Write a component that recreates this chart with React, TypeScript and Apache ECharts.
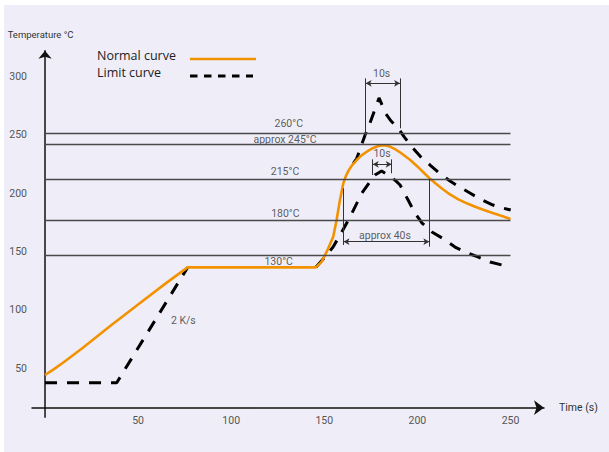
import React, { useEffect, useRef } from "react";
import * as echarts from "echarts";

// ---- data (in axis units) ----
const xTickValues = [50, 100, 150, 200, 250];
const yTickValues = [50, 100, 150, 200, 250, 300];

const normalCurve: number[][] = [
  [0, 44], [5, 49.3], [10, 55], [20, 67], [35, 86], [50, 104.5], [65, 122.8], [76.6, 136.3],
  [145.5, 136.3], [148.5, 141], [151.3, 149.7], [154.8, 162.6], [156.6, 176.9], [158.4, 194],
  [160.2, 208.3], [161.5, 214.3], [163, 219.2], [165, 224], [167.4, 228.3], [170, 232.3],
  [172.8, 235.4], [176, 238.4], [179, 240.3], [182.5, 240.9], [185.5, 239.6], [188, 237.6],
  [191, 234.5], [196, 228.5], [200, 222.8], [204, 216.5], [206.8, 212.3], [210, 208],
  [213.5, 203.5], [217.5, 198.8], [222, 194.6], [226.5, 191.2], [231, 188.2], [235.4, 185.6],
  [240, 183.1], [245, 180.5], [250, 177.7],
];

// limit curve: preheat ramp (2 K/s), then the two peak branches
const limitPreheat: number[][] = [
  [0, 37.4], [38.5, 37.4], [76.6, 136.3],
];

const limitLower: number[][] = [
  [145.5, 136.3], [150, 144.5], [154.7, 153.7],
  [159, 165.5], [163.8, 179.5], [170.2, 200], [174, 208.5], [177.2, 215.5], [180.8, 218.9],
  [184.2, 215.5], [188, 211], [190.7, 206.9], [195, 194], [198.7, 182.9], [202.5, 174.3],
  [207.8, 166.6], [213.2, 161.5], [220.2, 153.7], [225.6, 149.4], [232.5, 145.2], [239, 140.9],
  [249.7, 136.6],
];

const limitUpper: number[][] = [
  [165.6, 225.5], [167.4, 229.5], [171.9, 249.7],
  [174.5, 259.8], [179.4, 281.5], [183, 268], [186, 261.5], [189.6, 255.7], [193, 248],
  [197.1, 239.4], [201.5, 231.5], [206.8, 224], [212, 216.8], [217.5, 210.3], [223, 204.8],
  [228.2, 200], [234, 194.6], [240.6, 189.7], [245, 187.5], [250.1, 185.4],
];

const refLineValues = [251.2, 241.8, 211.8, 177.1, 146.6];
const refLineEnd = 250;
const refLineLabels = ["260°C", "approx 245°C", "215°C", "180°C", "130°C"];
const refLabelAnchors: number[][] = [
  [130.9, 259.8], [128.9, 246.1], [128.9, 218.3], [129.1, 182.6], [125.5, 141.1],
];

const annotationTexts = ["10s", "10s", "approx 40s", "2 K/s"];
const annotationAnchors: number[][] = [
  [180.8, 302.6], [181, 233.5], [182.6, 164], [74.3, 90.6],
];

// dimension ticks: [x, yFrom, yTo]
const bracketTicks: number[][] = [
  [172.2, 298.3, 248.9], [190.7, 298.3, 255.5],
  [176, 228.9, 215.5], [186.2, 228.9, 216.9],
  [160.3, 204, 155.5], [206.4, 212, 154],
];
// dimension arrows: [xFrom, xTo, y]
const bracketArrows: number[][] = [
  [172.2, 190.7, 294], [176, 186.2, 224.6], [160.3, 206.4, 158.3],
];

const legendNames = ["Normal curve", "Limit curve"];

const X_MIN = -7;
const X_MAX = 268;
const Y_MIN = 16;
const Y_MAX = 322;

const ORANGE = "#f39200";
const FONT = "Roboto, 'Open Sans', sans-serif";

export default function App() {
  const ref = useRef<HTMLDivElement>(null);

  useEffect(() => {
    if (!ref.current) return;
    const chart = echarts.init(ref.current, undefined, { renderer: "svg" });

    const markLineData: any[] = [];
    refLineValues.forEach((v) => {
      markLineData.push([{ coord: [0, v] }, { coord: [refLineEnd, v] }]);
    });
    bracketTicks.forEach(([x, y1, y2]) => {
      markLineData.push([
        { coord: [x, y1], lineStyle: { color: "#333", width: 1 } },
        { coord: [x, y2] },
      ]);
    });
    bracketArrows.forEach(([x1, x2, y]) => {
      markLineData.push([
        { coord: [x1, y], symbol: "arrow", symbolSize: [5, 6], lineStyle: { color: "#333", width: 1 } },
        { coord: [x2, y], symbol: "arrow", symbolSize: [5, 6] },
      ]);
    });

    const labelData: any[] = [];
    refLineLabels.forEach((t, i) => labelData.push({ name: t, value: refLabelAnchors[i] }));
    annotationTexts.forEach((t, i) => labelData.push({ name: t, value: annotationAnchors[i] }));

    const dashed = { color: "#000", width: 3, type: [12, 10] };

    const option: any = {
      animation: false,
      backgroundColor: "transparent",
      grid: {
        left: 32,
        right: 65,
        top: 50.7,
        bottom: 44.3,
        containLabel: false,
        outerBoundsMode: "none",
      },
      xAxis: {
        type: "value",
        min: X_MIN,
        max: X_MAX,
        name: "Time (s)",
        nameLocation: "end",
        nameGap: 15,
        nameTextStyle: { fontSize: 10.5, color: "#333", fontFamily: FONT },
        axisLine: {
          show: true,
          onZero: false,
          symbol: ["none", "arrow"],
          symbolSize: [11, 10],
          lineStyle: { color: "#111", width: 1.5 },
        },
        axisTick: { show: false },
        splitLine: { show: false },
        axisLabel: {
          customValues: xTickValues,
          margin: 7,
          fontSize: 10.5,
          color: "#555",
          fontFamily: FONT,
        },
      },
      yAxis: {
        type: "value",
        min: Y_MIN,
        max: Y_MAX,
        name: "Temperature °C",
        nameLocation: "end",
        nameGap: 11,
        nameTextStyle: { fontSize: 9.5, color: "#333", fontFamily: FONT, align: "center", padding: [0, 9, 0, 0] },
        axisLine: {
          show: true,
          onZero: true,
          symbol: ["none", "arrow"],
          symbolSize: [10, 8],
          lineStyle: { color: "#111", width: 1.5 },
        },
        axisTick: { show: false },
        splitLine: { show: false },
        axisLabel: {
          customValues: yTickValues,
          margin: 5,
          fontSize: 10.5,
          color: "#555",
          fontFamily: FONT,
        },
      },
      series: [
        { name: legendNames[1], type: "line", data: limitPreheat, symbol: "none", z: 2, lineStyle: dashed },
        { name: legendNames[1], type: "line", data: limitLower, symbol: "none", z: 2, lineStyle: dashed },
        { name: legendNames[1], type: "line", data: limitUpper, symbol: "none", z: 2, lineStyle: dashed },
        {
          name: legendNames[0],
          type: "line",
          data: normalCurve,
          symbol: "none",
          z: 3,
          lineStyle: { color: ORANGE, width: 2.6 },
        },
        {
          name: "annotations",
          type: "scatter",
          data: labelData,
          symbolSize: 1,
          z: 4,
          itemStyle: { color: "rgba(0,0,0,0)" },
          label: {
            show: true,
            position: "inside",
            formatter: "{b}",
            fontSize: 10.5,
            color: "#333",
            fontFamily: FONT,
          },
          markLine: {
            silent: true,
            symbol: "none",
            label: { show: false },
            lineStyle: { color: "#4a4a4a", width: 1.3, type: "solid" },
            data: markLineData,
          },
        },
      ],
    };

    chart.setOption(option);

    const p0 = chart.convertToPixel({ xAxisIndex: 0, yAxisIndex: 0 }, [0, Y_MIN]) as number[];
    chart.setOption({
      graphic: [
        {
          type: "line",
          shape: { x1: p0[0], y1: p0[1], x2: p0[0], y2: p0[1] + 10 },
          style: { stroke: "#111", lineWidth: 1.5 },
        },
        {
          type: "text",
          left: 97,
          top: 49,
          style: { text: legendNames[0], fontSize: 12.5, fill: "#222", fontFamily: "'Open Sans', sans-serif" },
        },
        {
          type: "text",
          left: 97,
          top: 66,
          style: { text: legendNames[1], fontSize: 12.5, fill: "#222", fontFamily: "'Open Sans', sans-serif" },
        },
        {
          type: "line",
          shape: { x1: 190, y1: 59, x2: 256, y2: 59 },
          style: { stroke: ORANGE, lineWidth: 2.7 },
        },
        {
          type: "line",
          shape: { x1: 190, y1: 76, x2: 253, y2: 76 },
          style: { stroke: "#000", lineWidth: 3.2, lineDash: [7.5, 6.5] },
        },
      ],
    });

    return () => chart.dispose();
  }, []);

  return (
    <div style={{ position: "fixed", left: 0, top: 0, width: 609, height: 452, background: "#fff" }}>
      <div style={{ position: "absolute", left: 4, top: 5, right: 0, bottom: 0, background: "#efeef8" }} />
      <div ref={ref} style={{ position: "absolute", left: 0, top: 0, width: 609, height: 452 }} />
    </div>
  );
}
